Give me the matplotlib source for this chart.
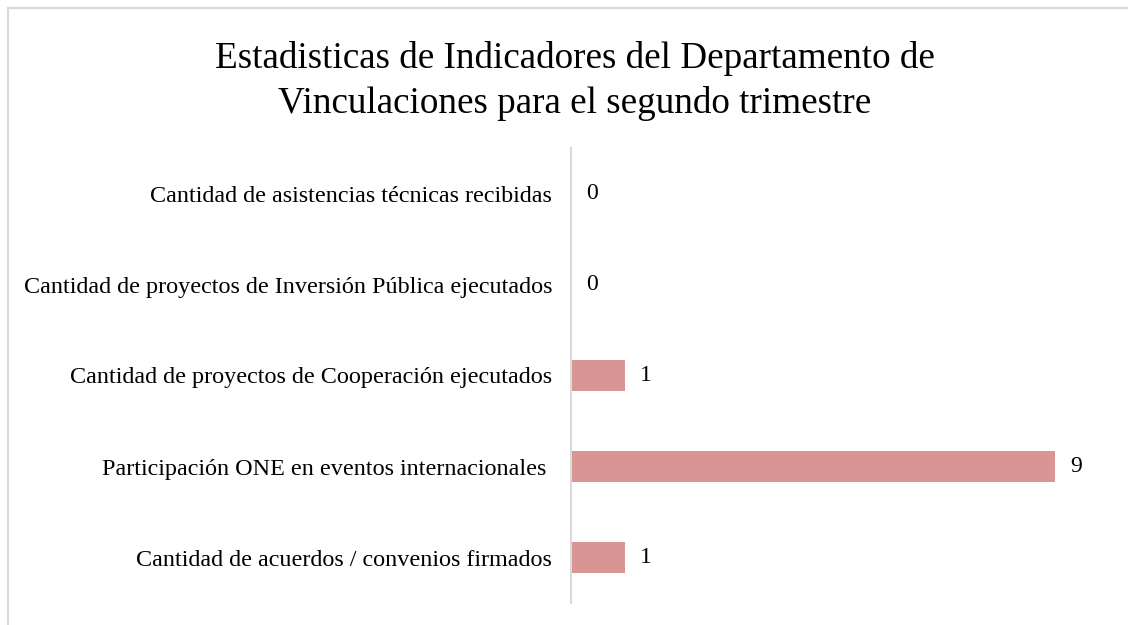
import matplotlib
matplotlib.use("Agg")
from matplotlib import pyplot as plt
import matplotlib.patches as mpatches

plt.rcParams['font.family'] = ['Liberation Serif', 'DejaVu Serif']

# data (bottom to top, as drawn)
categorias = [
    "Cantidad de acuerdos / convenios firmados",
    "Participación ONE en eventos internacionales ",
    "Cantidad de proyectos de Cooperación ejecutados",
    "Cantidad de proyectos de Inversión Pública ejecutados",
    "Cantidad de asistencias técnicas recibidas",
]
valores = [1, 9, 1, 0, 0]
titulo = "Estadisticas de Indicadores del Departamento de\nVinculaciones para el segundo trimestre"

fig = plt.figure(figsize=(11.28, 6.25), dpi=100)
ax = fig.add_axes([571 / 1128, 1 - 603 / 625, (1109 - 571) / 1128, (603 - 148) / 625])

# chart border (only left and top are visible in the frame)
fig.patches.append(mpatches.Rectangle((8 / 1128, -0.1), 1.2, 1 - 8 / 625 + 0.1,
                                      transform=fig.transFigure, fill=False,
                                      edgecolor='#D9D9D9', linewidth=1.5))

pos = list(range(len(categorias)))
ax.barh(pos, valores, height=0.35, color='#D99594')

for p, v in zip(pos, valores):
    ax.annotate(str(v), (v, p), xytext=(11, 0), textcoords='offset points',
                va='center', ha='left', fontsize=17)

ax.set_xlim(0, 10)
ax.set_ylim(-0.5, len(categorias) - 0.5)
ax.set_yticks(pos)
ax.set_yticklabels(categorias, fontsize=17.4)
ax.tick_params(axis='y', length=0, pad=13.5)
ax.set_xticks([])
for s in ['top', 'right', 'bottom']:
    ax.spines[s].set_visible(False)
ax.spines['left'].set_color('#D9D9D9')
ax.spines['left'].set_linewidth(1.5)

fig.text(575 / 1128, 1 - 81 / 625, titulo, ha='center', va='center',
         fontsize=26.7, linespacing=1.38)

fig.savefig("out.png", dpi=100)
